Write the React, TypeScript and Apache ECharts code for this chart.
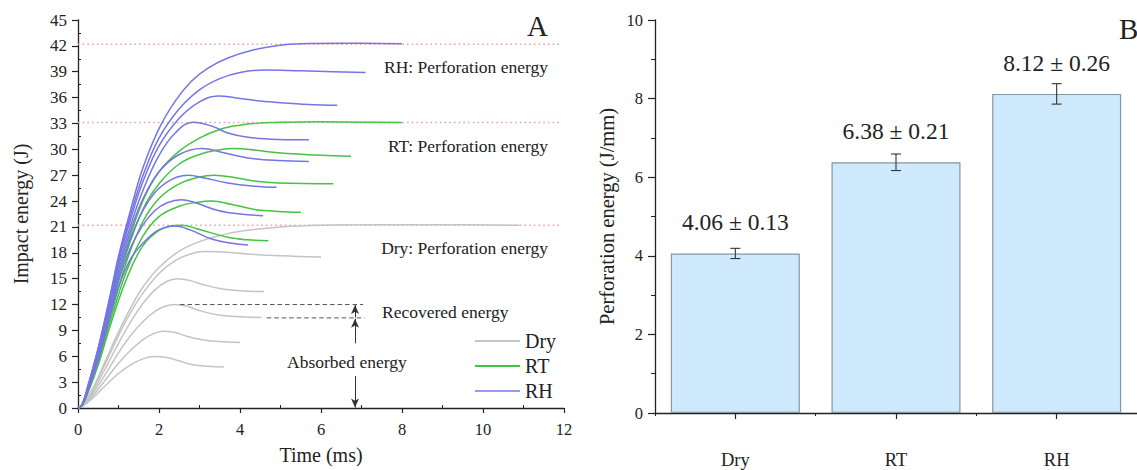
import React, { useEffect, useRef } from "react";
import * as echarts from "echarts";

// ---------- Panel A: impact energy vs time ----------
const DRY_A = [[0,0],[0.15,0.3],[0.4,1.3],[0.7,2.7],[1.0,4.0],[1.3,5.0],[1.6,5.7],[1.89,5.96],[2.2,5.85],[2.5,5.45],[2.8,5.05],[3.2,4.85],[3.6,4.75]];
const DRY_B = [[0,0],[0.15,0.35],[0.4,1.6],[0.7,3.4],[1.0,5.2],[1.3,6.7],[1.6,7.9],[1.85,8.6],[2.1,8.9],[2.4,8.75],[2.7,8.3],[3.1,7.9],[3.5,7.7],[4.0,7.6]];
const DRY_C = [[0,0],[0.15,0.4],[0.4,1.9],[0.7,4.1],[1.0,6.4],[1.3,8.4],[1.6,10.0],[1.9,11.2],[2.15,11.8],[2.4,12.0],[2.7,11.8],[3.0,11.3],[3.4,10.85],[3.9,10.6],[4.53,10.5]];
const DRY_D = [[0,0],[0.15,0.45],[0.4,2.2],[0.7,4.8],[1.0,7.5],[1.3,10.0],[1.6,12.1],[1.9,13.7],[2.2,14.7],[2.45,15.0],[2.75,14.8],[3.1,14.3],[3.5,13.85],[4.0,13.6],[4.6,13.5]];
const DRY_E = [[0,0],[0.15,0.5],[0.4,2.5],[0.7,5.4],[1.0,8.4],[1.3,11.1],[1.6,13.3],[2.0,15.6],[2.4,17.1],[2.8,17.9],[3.1,18.15],[3.6,18.1],[4.2,17.85],[5.0,17.65],[6.0,17.5]];
const DRY_F = [[0,0],[0.15,0.5],[0.4,2.6],[0.7,5.7],[1.0,8.8],[1.3,11.6],[1.6,14.0],[2.0,16.3],[2.5,18.2],[3.0,19.3],[3.5,20.0],[4.0,20.5],[5.0,21.0],[6.0,21.2],[7.5,21.25],[9.0,21.25],[10.9,21.2]];

const RT_A = [[0,0],[0.1,0.3],[0.25,1.8],[0.5,5.0],[0.8,9.6],[1.2,15.0],[1.6,18.8],[2.0,20.6],[2.3,21.1],[2.55,21.2],[3.0,20.7],[3.7,19.8],[4.2,19.5],[4.7,19.4]];
const RT_B = [[0,0],[0.1,0.3],[0.25,1.9],[0.5,5.3],[0.8,10.1],[1.2,15.9],[1.6,19.9],[2.0,22.2],[2.5,23.4],[3.0,23.9],[3.3,24.0],[3.8,23.6],[4.4,23.0],[4.94,22.8],[5.5,22.7]];
const RT_C = [[0,0],[0.1,0.3],[0.25,2.0],[0.5,5.6],[0.8,10.6],[1.2,17.0],[1.6,21.6],[2.0,24.3],[2.5,26.0],[3.0,26.8],[3.37,27.0],[3.9,26.7],[4.4,26.3],[4.94,26.1],[6.3,26.0]];
const RT_D = [[0,0],[0.1,0.3],[0.25,2.0],[0.5,5.8],[0.8,11.0],[1.2,18.0],[1.6,23.0],[2.0,26.0],[2.5,28.3],[3.0,29.4],[3.5,29.95],[3.87,30.1],[4.4,29.9],[4.94,29.6],[6.0,29.3],[6.74,29.2]];
const RT_E = [[0,0],[0.1,0.3],[0.25,2.1],[0.5,6.0],[0.8,11.6],[1.2,18.6],[1.6,24.0],[2.0,27.4],[2.5,29.8],[3.0,31.3],[3.5,32.3],[4.0,32.8],[4.5,33.05],[5.0,33.15],[6.0,33.2],[7.0,33.15],[8.0,33.1]];

const RH_A = [[0,0],[0.1,0.35],[0.25,2.0],[0.5,5.6],[0.8,10.8],[1.0,14.0],[1.3,17.3],[1.6,19.1],[1.9,20.4],[2.15,20.95],[2.39,21.1],[2.8,20.6],[3.3,19.6],[3.8,19.1],[4.2,18.9]];
const RH_B = [[0,0],[0.1,0.35],[0.25,2.1],[0.5,5.9],[0.8,11.3],[1.0,14.8],[1.3,18.6],[1.6,21.2],[1.9,22.9],[2.2,23.8],[2.55,24.15],[2.9,23.8],[3.46,22.9],[4.0,22.5],[4.57,22.3]];
const RH_C = [[0,0],[0.1,0.35],[0.25,2.2],[0.5,6.2],[0.8,11.8],[1.0,15.5],[1.3,19.7],[1.6,22.9],[1.9,25.0],[2.2,26.2],[2.45,26.8],[2.72,27.0],[3.1,26.7],[3.7,26.1],[4.3,25.75],[4.9,25.6]];
const RH_D = [[0,0],[0.1,0.35],[0.25,2.3],[0.5,6.4],[0.8,12.1],[1.0,16.0],[1.3,20.6],[1.6,24.2],[2.0,27.4],[2.5,29.4],[3.05,30.1],[3.6,29.6],[4.2,29.0],[4.94,28.7],[5.7,28.6]];
const RH_E = [[0,0],[0.1,0.35],[0.25,2.4],[0.5,6.6],[0.8,12.5],[1.0,16.5],[1.3,21.2],[1.6,25.2],[2.0,29.3],[2.4,31.9],[2.84,33.15],[3.3,32.7],[3.7,31.9],[4.2,31.4],[4.94,31.15],[5.7,31.1]];
const RH_F = [[0,0],[0.1,0.35],[0.25,2.5],[0.5,6.8],[0.8,12.8],[1.0,17.0],[1.3,21.9],[1.6,26.2],[2.0,30.4],[2.5,33.6],[3.0,35.5],[3.46,36.2],[4.0,35.9],[4.5,35.6],[5.0,35.4],[5.7,35.2],[6.4,35.1]];
const RH_G = [[0,0],[0.1,0.35],[0.25,2.6],[0.5,6.9],[0.8,13.0],[1.0,17.3],[1.3,22.4],[1.6,26.9],[2.0,31.3],[2.5,34.7],[3.0,36.9],[3.5,38.2],[4.0,38.9],[4.6,39.2],[5.5,39.1],[6.3,39.0],[7.1,38.9]];
const RH_H = [[0,0],[0.1,0.4],[0.25,2.7],[0.5,7.0],[0.8,13.2],[1.0,17.6],[1.3,23.0],[1.6,27.8],[2.0,32.4],[2.4,35.6],[2.8,37.9],[3.2,39.4],[3.7,40.6],[4.3,41.5],[4.94,42.05],[5.5,42.25],[6.5,42.3],[8.0,42.25]];

const DRY_CURVES = [DRY_A, DRY_B, DRY_C, DRY_D, DRY_E, DRY_F];
const RT_CURVES = [RT_A, RT_B, RT_C, RT_D, RT_E];
const RH_CURVES = [RH_A, RH_B, RH_C, RH_D, RH_E, RH_F, RH_G, RH_H];

// perforation energy reference levels (J) and their extent (ms)
const PERFORATION_LEVELS = [42.2, 33.1, 21.2];
const PERFORATION_SPAN = [0, 11.9];

// recovered / absorbed energy guide lines (ms, J)
const RECOVERED_TOP = [[2.52, 12.0], [7.04, 12.0]];
const RECOVERED_BOTTOM = [[4.66, 10.45], [7.08, 10.45]];
const ARROW_TIME = 6.84;

// ---------- Panel B: perforation energy bars ----------
const BAR_CATEGORIES = ["Dry", "RT", "RH"];
const BAR_VALUES = [4.06, 6.38, 8.12];
const BAR_ERRORS = [0.13, 0.21, 0.26];

const SERIF = "'Liberation Serif', 'Times New Roman', serif";
const INK = "#222";
const COLORS = { Dry: "#c4c4c4", RT: "#43c443", RH: "#7575e4" };

export default function App() {
  const ref = useRef<HTMLDivElement>(null);

  useEffect(() => {
    if (!ref.current) return;
    const chart = echarts.init(ref.current, undefined, { renderer: "svg" });

    const curveSeries = (name: "Dry" | "RT" | "RH", curves: number[][][]) =>
      curves.map((c) => ({
        type: "line",
        name,
        xAxisIndex: 0,
        yAxisIndex: 0,
        data: c,
        smooth: 0.4,
        symbol: "none",
        silent: true,
        lineStyle: { color: COLORS[name], width: 1.5 },
        itemStyle: { color: COLORS[name] },
        z: 3,
      }));

    const perforationSeries = PERFORATION_LEVELS.map((lv) => ({
      type: "line",
      name: "perf" + lv,
      xAxisIndex: 0,
      yAxisIndex: 0,
      data: [[PERFORATION_SPAN[0], lv], [PERFORATION_SPAN[1], lv]],
      symbol: "none",
      silent: true,
      lineStyle: { color: "#f29aa3", width: 1.5, type: [1.5, 3.2] },
      z: 2,
    }));

    const guideStyle = { color: "#555", width: 1, type: [4.5, 3] };
    const annot = (text: string, x: number, y: number, align: string) => ({
      type: "text",
      x,
      y,
      style: { text, fontFamily: SERIF, fontSize: 17.5, fill: INK, align, verticalAlign: "middle" },
    });

    const option: any = {
      animation: false,
      backgroundColor: "#fff",
      textStyle: { fontFamily: SERIF, color: INK },
      legend: {
        data: [
          { name: "Dry", itemStyle: { color: COLORS.Dry } },
          { name: "RT", itemStyle: { color: COLORS.RT } },
          { name: "RH", itemStyle: { color: "#9a9aee" } },
        ],
        orient: "vertical",
        left: 475,
        top: 331,
        padding: 0,
        icon: "rect",
        itemWidth: 45,
        itemHeight: 2,
        itemGap: 5,
        selectedMode: false,
        textStyle: { fontFamily: SERIF, fontSize: 20, color: INK, lineHeight: 20 },
      },
      grid: [
        { left: 78, top: 20, width: 486, height: 390 },
        { left: 655, top: 20, width: 486, height: 393 },
      ],
      xAxis: [
        {
          gridIndex: 0,
          type: "value",
          min: 0,
          max: 12,
          interval: 2,
          name: "Time (ms)",
          nameLocation: "middle",
          nameGap: 37,
          nameTextStyle: { fontFamily: SERIF, fontSize: 20, color: INK },
          axisLine: { show: true, onZero: false, lineStyle: { color: INK, width: 1.3 } },
          axisTick: { show: true, length: 5, lineStyle: { color: INK, width: 1.2 } },
          minorTick: { show: true, splitNumber: 2, length: -3, lineStyle: { color: INK, width: 1 } },
          axisLabel: { fontFamily: SERIF, fontSize: 16.5, color: INK, margin: 13 },
          splitLine: { show: false },
        },
        {
          gridIndex: 1,
          type: "category",
          position: "bottom",
          data: BAR_CATEGORIES,
          axisLine: { show: true, lineStyle: { color: INK, width: 1.3 } },
          axisTick: { show: true, alignWithLabel: true, length: 6, lineStyle: { color: INK, width: 1.2 } },
          axisLabel: { fontFamily: SERIF, fontSize: 18.5, color: INK, margin: 37 },
          splitLine: { show: false },
        },
        {
          gridIndex: 1,
          type: "category",
          position: "bottom",
          data: BAR_CATEGORIES,
          axisLine: { show: false },
          axisTick: { show: true, length: 3, lineStyle: { color: INK, width: 1 } },
          axisLabel: { show: false },
          splitLine: { show: false },
        },
      ],
      yAxis: [
        {
          gridIndex: 0,
          type: "value",
          min: 0,
          max: 45,
          interval: 3,
          name: "Impact energy (J)",
          nameLocation: "middle",
          nameGap: 47,
          nameTextStyle: { fontFamily: SERIF, fontSize: 20, color: INK },
          axisLine: { show: true, onZero: false, lineStyle: { color: INK, width: 1.3 } },
          axisTick: { show: true, length: 6, lineStyle: { color: INK, width: 1.2 } },
          minorTick: { show: true, splitNumber: 2, length: -3, lineStyle: { color: INK, width: 1 } },
          axisLabel: { fontFamily: SERIF, fontSize: 17, color: INK, margin: 11 },
          splitLine: { show: false },
        },
        {
          gridIndex: 1,
          type: "value",
          min: 0,
          max: 10,
          interval: 2,
          name: "Perforation energy (J/mm)",
          nameLocation: "middle",
          nameGap: 38,
          nameTextStyle: { fontFamily: SERIF, fontSize: 20.5, color: INK },
          axisLine: { show: true, onZero: false, lineStyle: { color: INK, width: 1.3 } },
          axisTick: { show: true, length: 7, lineStyle: { color: INK, width: 1.2 } },
          minorTick: { show: true, splitNumber: 2, length: 4, lineStyle: { color: INK, width: 1 } },
          axisLabel: { fontFamily: SERIF, fontSize: 16.5, color: INK, margin: 12 },
          splitLine: { show: false },
        },
      ],
      series: [
        ...perforationSeries,
        ...curveSeries("Dry", DRY_CURVES),
        ...curveSeries("RT", RT_CURVES),
        ...curveSeries("RH", RH_CURVES),
        {
          type: "line",
          name: "recoveredTop",
          xAxisIndex: 0,
          yAxisIndex: 0,
          data: RECOVERED_TOP,
          symbol: "none",
          silent: true,
          lineStyle: guideStyle,
          z: 4,
          markLine: {
            silent: true,
            symbol: ["none", "arrow"],
            symbolSize: [6, 9],
            label: { show: false },
            lineStyle: { color: "#333", width: 1, type: "solid" },
            emphasis: { disabled: true },
            data: [
              [{ coord: [ARROW_TIME, RECOVERED_BOTTOM[0][1] + 0.05] }, { coord: [ARROW_TIME, RECOVERED_TOP[0][1] - 0.05] }],
              [{ coord: [ARROW_TIME, 7.5] }, { coord: [ARROW_TIME, RECOVERED_BOTTOM[0][1] - 0.1] }],
              [{ coord: [ARROW_TIME, 3.7] }, { coord: [ARROW_TIME, 0.05] }],
            ],
          },
        },
        {
          type: "line",
          name: "recoveredBottom",
          xAxisIndex: 0,
          yAxisIndex: 0,
          data: RECOVERED_BOTTOM,
          symbol: "none",
          silent: true,
          lineStyle: guideStyle,
          z: 4,
        },
        {
          type: "bar",
          name: "Perforation energy",
          xAxisIndex: 1,
          yAxisIndex: 1,
          data: BAR_VALUES,
          barWidth: 129,
          silent: true,
          itemStyle: { color: "#cde9fb", borderColor: "#8797a2", borderWidth: 1.2 },
          label: {
            show: true,
            position: "top",
            distance: 19,
            fontFamily: SERIF,
            fontSize: 23.5,
            color: INK,
            formatter: (p: any) =>
              `${BAR_VALUES[p.dataIndex].toFixed(2)} ± ${BAR_ERRORS[p.dataIndex].toFixed(2)}`,
          },
        },
        {
          type: "custom",
          name: "error",
          xAxisIndex: 1,
          yAxisIndex: 1,
          silent: true,
          z: 5,
          data: BAR_VALUES.map((v, i) => [i, v - BAR_ERRORS[i], v + BAR_ERRORS[i]]),
          renderItem: (_params: any, api: any) => {
            const idx = api.value(0);
            const lo = api.coord([idx, api.value(1)]);
            const hi = api.coord([idx, api.value(2)]);
            const hw = 5;
            const st = { stroke: "#333", lineWidth: 1.1 };
            return {
              type: "group",
              children: [
                { type: "line", shape: { x1: lo[0], y1: lo[1], x2: hi[0], y2: hi[1] }, style: st },
                { type: "line", shape: { x1: lo[0] - hw, y1: lo[1], x2: lo[0] + hw, y2: lo[1] }, style: st },
                { type: "line", shape: { x1: hi[0] - hw, y1: hi[1], x2: hi[0] + hw, y2: hi[1] }, style: st },
              ],
            };
          },
        },
      ],
      graphic: [
        { type: "text", left: 527, top: 11, style: { text: "A", fontFamily: SERIF, fontSize: 29, fill: INK } },
        { type: "text", left: 1119, top: 14, style: { text: "B", fontFamily: SERIF, fontSize: 29, fill: INK } },
        annot("RH: Perforation energy", 548, 67, "right"),
        annot("RT: Perforation energy", 548, 146, "right"),
        annot("Dry: Perforation energy", 548, 248, "right"),
        annot("Recovered energy", 382, 312, "left"),
        annot("Absorbed energy", 287, 362, "left"),
      ],
    };

    chart.setOption(option);
    return () => chart.dispose();
  }, []);

  return (
    <div
      ref={ref}
      style={{ position: "fixed", left: 0, top: 0, width: 1137, height: 470, background: "#fff" }}
    />
  );
}
